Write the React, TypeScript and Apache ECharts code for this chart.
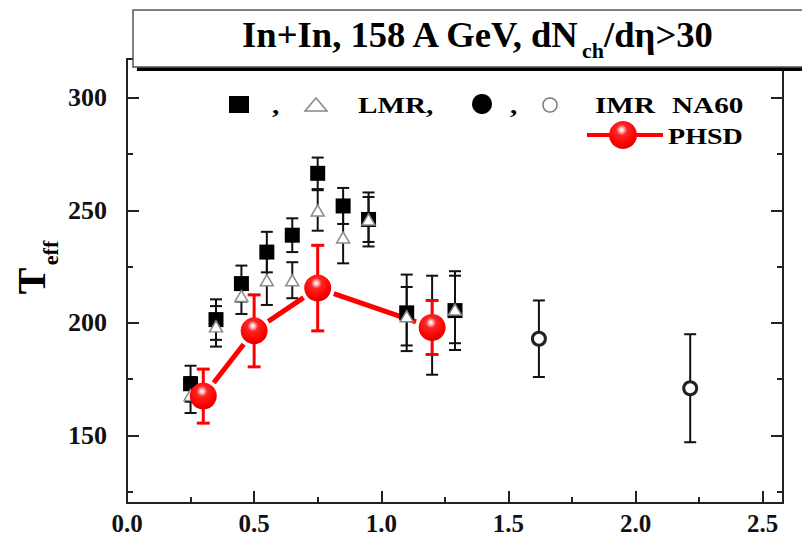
import { useEffect, useRef } from "react";
import * as echarts from "echarts";

// LMR (NA60): filled squares and open triangles share the same pT bins
const lmrX = [0.25, 0.35, 0.45, 0.55, 0.65, 0.75, 0.85, 0.95, 1.1, 1.29];
const lmrSquareT = [173, 201.5, 217.5, 231.5, 239, 266.5, 252, 246, 204.5, 205.5];
const lmrSquareErr = [8, 9, 8, 9, 7.5, 7, 8, 12, 17, 17.5];
const lmrTriangleT = [168, 198.5, 212, 219, 219, 250, 238, 246, 203, 206];
const lmrTriangleErr = [8, 9, 8, 11, 8, 9, 11.5, 10, 13, 15];

// IMR (NA60): filled and open circles
const imrFilledX = [1.2];
const imrFilledT = [199];
const imrFilledErr = [22];
const imrOpenX = [1.62, 2.215];
const imrOpenT = [193, 171];
const imrOpenErr = [17, 24];

// PHSD calculation
const phsdX = [0.3, 0.5, 0.75, 1.2];
const phsdT = [167.5, 196.5, 215.5, 198];
const phsdErr = [12, 16, 19, 12];

// Axis ticks
const xTicks = [0, 0.5, 1.0, 1.5, 2.0, 2.5];
const xMinorTicks = [0.25, 0.75, 1.25, 1.75, 2.25];
const yTicks = [150, 200, 250, 300];
const yMinorTicks = [125, 175, 225, 275];

const X_MIN = 0;
const X_MAX = 2.58;
const Y_MIN = 120;
const Y_MAX = 317.3;

const SERIF = '"Liberation Serif", "Times New Roman", serif';

const sphereFill = () =>
  new echarts.graphic.RadialGradient(0.45, 0.32, 0.7, [
    { offset: 0, color: "#ffffff" },
    { offset: 0.09, color: "#ffd0d0" },
    { offset: 0.28, color: "#ff2424" },
    { offset: 0.72, color: "#ff0000" },
    { offset: 1, color: "#d80000" },
  ]);

function errorBarSeries(xs: number[], ys: number[], errs: number[], color: string, width: number, cap: number) {
  return {
    type: "custom",
    clip: false,
    data: xs.map((x, i) => [x, ys[i], errs[i]]),
    renderItem: (_params: any, api: any) => {
      const x = api.value(0);
      const y = api.value(1);
      const e = api.value(2);
      const top = api.coord([x, y + e]);
      const bot = api.coord([x, y - e]);
      const hw = cap / 2;
      const style = { stroke: color, lineWidth: width };
      return {
        type: "group",
        children: [
          { type: "line", shape: { x1: top[0], y1: top[1], x2: bot[0], y2: bot[1] }, style },
          { type: "line", shape: { x1: top[0] - hw, y1: top[1], x2: top[0] + hw, y2: top[1] }, style },
          { type: "line", shape: { x1: bot[0] - hw, y1: bot[1], x2: bot[0] + hw, y2: bot[1] }, style },
        ],
      };
    },
  };
}

function pts(xs: number[], ys: number[]) {
  return xs.map((x, i) => [x, ys[i]]);
}

function tickAxis(kind: "x" | "y", position: string, values: number[], length: number, labels: boolean) {
  const base: any = {
    type: "value",
    position,
    min: kind === "x" ? X_MIN : Y_MIN,
    max: kind === "x" ? X_MAX : Y_MAX,
    axisLine: { show: false },
    splitLine: { show: false },
    axisTick: {
      show: true,
      inside: true,
      length,
      lineStyle: { color: "#222", width: 2 },
      customValues: values,
    },
    axisLabel: labels
      ? {
          show: true,
          customValues: values,
          margin: kind === "x" ? 8 : 20,
          color: "#111",
          fontFamily: SERIF,
          fontWeight: "bold",
          fontSize: kind === "x" ? 25 : 26,
          formatter: (v: number) => (kind === "x" ? v.toFixed(1) : String(v)),
        }
      : { show: false },
  };
  return base;
}

export default function App() {
  const ref = useRef<HTMLDivElement>(null);

  useEffect(() => {
    if (!ref.current) return;
    const chart = echarts.init(ref.current, null, { renderer: "svg" });

    // Title pieces: main text, subscript "ch", remainder
    const ctx = document.createElement("canvas").getContext("2d")!;
    const measure = (t: string, size: number) => {
      ctx.font = `bold ${size}px ${SERIF}`;
      return ctx.measureText(t).width;
    };
    const tA = "In+In, 158 A GeV, dN";
    const tSub = "ch";
    const tC = "/d\u03b7>30";
    const wA = measure(tA, 35);
    const wSub = measure(tSub, 21);
    const wC = measure(tC, 35);
    const titleLeft = 242;
    const titleWidth = 471;
    const s = titleWidth / (wA + wSub + wC);

    const lmrScale = 1.27;
    const legendFont = `bold 23px ${SERIF}`;
    const txt = (text: string, x: number, y: number, font: string, scaleX = 1) => ({
      type: "text",
      x,
      y,
      scaleX,
      z: 120,
      style: { text, font, fill: "#000", align: "left", verticalAlign: "middle" },
    });

    const graphic: any[] = [
      // title box with drop shadow
      { type: "rect", z: 110, shape: { x: 137, y: 14, width: 720, height: 57 }, style: { fill: "#000" } },
      {
        type: "rect",
        z: 111,
        shape: { x: 133, y: 10, width: 720, height: 57 },
        style: { fill: "#fff", stroke: "#555", lineWidth: 1.5 },
      },
      txt(tA, titleLeft, 35, `bold 35px ${SERIF}`, s),
      txt(tSub, titleLeft + wA * s, 51, `bold 21px ${SERIF}`, s),
      txt(tC, titleLeft + (wA + wSub) * s, 35, `bold 35px ${SERIF}`, s),

      // legend, first row
      { type: "rect", z: 120, shape: { x: 229, y: 96, width: 20, height: 17 }, style: { fill: "#000" } },
      txt(",", 272, 105.5, legendFont, lmrScale),
      {
        type: "polygon",
        z: 120,
        shape: { points: [[305, 111], [327, 111], [316, 98]] },
        style: { fill: "#fff", stroke: "#888", lineWidth: 1.5 },
      },
      txt("LMR,", 358, 105.5, legendFont, lmrScale),
      { type: "circle", z: 120, shape: { cx: 482, cy: 104, r: 10 }, style: { fill: "#000" } },
      txt(",", 510, 105.5, legendFont, lmrScale),
      {
        type: "circle",
        z: 120,
        shape: { cx: 550, cy: 105, r: 7 },
        style: { fill: "#fff", stroke: "#777", lineWidth: 1.5 },
      },
      txt("IMR", 595, 105.5, legendFont, lmrScale),
      txt("NA60", 672, 105.5, legendFont, lmrScale),

      // legend, PHSD row
      {
        type: "line",
        z: 120,
        shape: { x1: 587, y1: 135, x2: 663, y2: 135 },
        style: { stroke: "#ff0000", lineWidth: 4 },
      },
      { type: "circle", z: 121, shape: { cx: 623, cy: 135, r: 14 }, style: { fill: sphereFill() } },
      txt("PHSD", 668, 136, legendFont, 1.22),

      // y axis title T_eff, rotated
      {
        type: "text",
        x: 31,
        y: 281,
        rotation: Math.PI / 2,
        z: 120,
        style: { text: "T", font: `bold 40px ${SERIF}`, fill: "#000", align: "center", verticalAlign: "middle" },
      },
      {
        type: "text",
        x: 50,
        y: 253,
        rotation: Math.PI / 2,
        z: 120,
        style: { text: "eff", font: `bold 22px ${SERIF}`, fill: "#000", align: "center", verticalAlign: "middle" },
      },
    ];

    const segData = phsdX.slice(0, -1).map((x, i) => [x, phsdT[i], phsdX[i + 1], phsdT[i + 1]]);

    chart.setOption({
      animation: false,
      backgroundColor: "#fff",
      textStyle: { fontFamily: SERIF },
      grid: {
        left: 127,
        right: 19,
        top: 59,
        bottom: 34,
        show: true,
        borderColor: "#222",
        borderWidth: 2,
        backgroundColor: "transparent",
      },
      xAxis: [
        tickAxis("x", "bottom", xTicks, 12, true),
        tickAxis("x", "bottom", xMinorTicks, 6, false),
      ],
      yAxis: [
        tickAxis("y", "left", yTicks, 12, true),
        tickAxis("y", "left", yMinorTicks, 6, false),
        tickAxis("y", "right", yTicks, 12, false),
        tickAxis("y", "right", yMinorTicks, 6, false),
      ],
      graphic,
      series: [
        errorBarSeries(lmrX, lmrSquareT, lmrSquareErr, "#111", 2, 12),
        errorBarSeries(lmrX, lmrTriangleT, lmrTriangleErr, "#111", 2, 12),
        errorBarSeries(imrFilledX, imrFilledT, imrFilledErr, "#111", 2, 12),
        errorBarSeries(imrOpenX, imrOpenT, imrOpenErr, "#111", 2, 12),
        {
          type: "scatter",
          data: pts(lmrX, lmrSquareT),
          symbol: "rect",
          symbolSize: 15,
          itemStyle: { color: "#000", opacity: 1 },
        },
        {
          type: "scatter",
          data: pts(lmrX, lmrTriangleT),
          symbol: "triangle",
          symbolSize: [13, 11],
          itemStyle: { color: "#fff", borderColor: "#8a8a8a", borderWidth: 1.5, opacity: 1 },
        },
        {
          type: "scatter",
          data: pts(imrFilledX, imrFilledT),
          symbol: "circle",
          symbolSize: 15,
          itemStyle: { color: "#000", opacity: 1 },
        },
        {
          type: "scatter",
          data: pts(imrOpenX, imrOpenT),
          symbol: "circle",
          symbolSize: 13,
          itemStyle: { color: "#fff", borderColor: "#222", borderWidth: 3, opacity: 1 },
        },
        errorBarSeries(phsdX, phsdT, phsdErr, "#ff0000", 3, 13),
        {
          type: "custom",
          clip: false,
          data: segData,
          renderItem: (_params: any, api: any) => {
            const a = api.coord([api.value(0), api.value(1)]);
            const b = api.coord([api.value(2), api.value(3)]);
            const dx = b[0] - a[0];
            const dy = b[1] - a[1];
            const len = Math.hypot(dx, dy) || 1;
            const ux = dx / len;
            const uy = dy / len;
            const g = 17;
            return {
              type: "line",
              shape: { x1: a[0] + ux * g, y1: a[1] + uy * g, x2: b[0] - ux * g, y2: b[1] - uy * g },
              style: { stroke: "#ff0000", lineWidth: 5 },
            };
          },
        },
        {
          type: "scatter",
          data: pts(phsdX, phsdT),
          symbol: "circle",
          symbolSize: 27,
          itemStyle: { color: sphereFill(), opacity: 1 },
        },
      ],
    });

    return () => chart.dispose();
  }, []);

  return (
    <div
      ref={ref}
      style={{ position: "absolute", left: 0, top: 0, width: 802, height: 537, background: "#fff" }}
    />
  );
}
